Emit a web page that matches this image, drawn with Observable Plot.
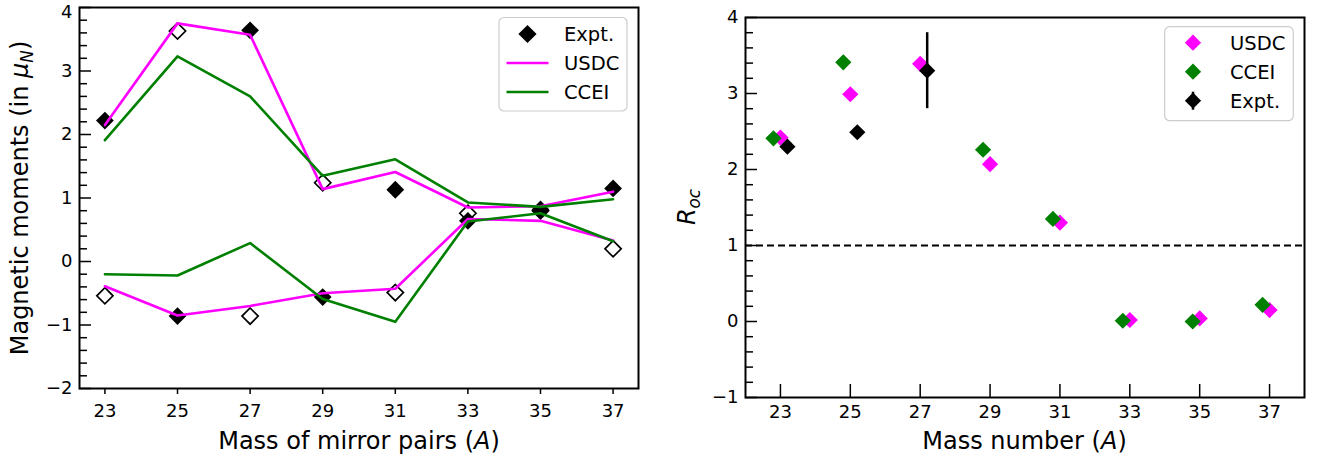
<!DOCTYPE html>
<html><head><meta charset="utf-8">
<script src="https://cdn.jsdelivr.net/npm/d3@7"></script>
<script src="https://cdn.jsdelivr.net/npm/@observablehq/plot@0.6"></script>
<style>
body{margin:0;background:#fff;}
#wrap{position:relative;width:1324px;height:460px;overflow:hidden;}
#left,#right{position:absolute;top:0;}
#left{left:0;} #right{left:660px;}
svg{overflow:visible;}
</style></head><body><div id="wrap"><div id="left"></div><div id="right"></div></div>
<script>
// ---- Data: left panel (magnetic moments of mirror pairs) ----
const masses = [23, 25, 27, 29, 31, 33, 35, 37];
const exptFilled = [2.22, -0.86, 3.64, -0.56, 1.13, 0.64, 0.82, 1.15];
const exptOpen   = [-0.54, 3.63, -0.86, 1.24, -0.49, 0.76, 0.80, 0.20];
const usdcUpper  = [2.15, 3.75, 3.57, 1.14, 1.41, 0.85, 0.87, 1.10];
const usdcLower  = [-0.39, -0.85, -0.70, -0.50, -0.43, 0.67, 0.64, 0.33];
const cceiUpper  = [1.91, 3.23, 2.60, 1.35, 1.61, 0.93, 0.86, 0.98];
const cceiLower  = [-0.20, -0.22, 0.29, -0.59, -0.95, 0.63, 0.76, 0.32];

// ---- Data: right panel (R_oc) ----
const rocUSDC = [2.42, 2.99, 3.39, 2.07, 1.30, 0.02, 0.04, 0.15];
const rocCCEI = [2.41, 3.41, null, 2.26, 1.35, 0.01, 0.00, 0.22];
const exptMasses = [23, 25, 27];
const rocExpt = [2.30, 2.49, 3.30];
const rocExptErr = [0, 0, 0.5];

const leftYTicks = [-2, -1, 0, 1, 2, 3, 4];
const rightYTicks = [-1, 0, 1, 2, 3, 4];

const MAG = "#ff00ff", GRN = "#008000";
const FONT = "DejaVu Sans";
const minor = (lo, hi) => d3.range(lo, hi + 1e-9, 0.2).filter(v => Math.abs(v - Math.round(v)) > 1e-6);
const rows = (arr) => masses.map((m, i) => ({A: m, v: arr[i]})).filter(d => d.v != null);
const fmt = d3.format("d");

// ---------- LEFT ----------
const left = Plot.plot({
  width: 660, height: 460,
  marginLeft: 79, marginRight: 22, marginTop: 7, marginBottom: 72,
  style: {fontFamily: FONT, fontSize: "18px", background: "transparent", color: "black"},
  x: {domain: [22.3, 37.7], axis: null},
  y: {domain: [-2, 4], axis: null},
  marks: [
    Plot.dot(rows(exptOpen), {x: "A", y: "v", symbol: "diamond2", r: 7.3, fill: "white", stroke: "black", strokeWidth: 1.7}),
    Plot.dot(rows(exptFilled), {x: "A", y: "v", symbol: "diamond2", r: 8, fill: "black"}),
    Plot.line(rows(usdcUpper), {x: "A", y: "v", stroke: MAG, strokeWidth: 2.6}),
    Plot.line(rows(usdcLower), {x: "A", y: "v", stroke: MAG, strokeWidth: 2.6}),
    Plot.line(rows(cceiUpper), {x: "A", y: "v", stroke: GRN, strokeWidth: 2.6}),
    Plot.line(rows(cceiLower), {x: "A", y: "v", stroke: GRN, strokeWidth: 2.6}),
    Plot.axisX({ticks: masses, tickSize: 6, tickPadding: 10, tickFormat: d => String(d), strokeWidth: 1.5, label: null}),
    Plot.axisY({ticks: leftYTicks, tickSize: -12, fill: "none", strokeWidth: 1.5, label: null}),
    Plot.axisY({ticks: minor(-2, 4), tickSize: -8, fill: "none", strokeWidth: 1.5, label: null}),
    Plot.axisY({ticks: leftYTicks.filter(v => v < 4), tickSize: 0, tickPadding: 7, tickFormat: fmt, label: null}),
    Plot.axisY({ticks: leftYTicks.filter(v => v === 4), tickSize: 0, tickPadding: 7, dy: 5, tickFormat: fmt, label: null}),
    Plot.frame({stroke: "black", strokeWidth: 2})
  ]
});
document.getElementById("left").appendChild(left);

// ---------- RIGHT ----------
const exptRows = exptMasses.map((m, i) => ({A: m, v: rocExpt[i], e: rocExptErr[i]}));
const right = Plot.plot({
  width: 664, height: 460,
  marginLeft: 85, marginRight: 20, marginTop: 17, marginBottom: 63,
  style: {fontFamily: FONT, fontSize: "18px", background: "transparent", color: "black"},
  x: {domain: [22, 38], axis: null},
  y: {domain: [-1, 4], axis: null},
  marks: [
    Plot.ruleY([1], {stroke: "black", strokeWidth: 2, strokeDasharray: "7,4"}),
    Plot.dot(rows(rocUSDC), {x: "A", y: "v", symbol: "diamond2", r: 7.3, fill: MAG}),
    Plot.dot(rows(rocCCEI), {x: "A", y: "v", dx: -7, symbol: "diamond2", r: 7.3, fill: GRN}),
    Plot.ruleX(exptRows.filter(d => d.e > 0), {x: "A", y1: d => d.v - d.e, y2: d => d.v + d.e, dx: 7, stroke: "black", strokeWidth: 2.5}),
    Plot.dot(exptRows, {x: "A", y: "v", dx: 7, symbol: "diamond2", r: 7.3, fill: "black"}),
    Plot.axisX({ticks: masses, tickSize: -13, tickPadding: 21, tickFormat: d => String(d), strokeWidth: 1.5, label: null}),
    Plot.axisY({ticks: rightYTicks, tickSize: -12, tickPadding: 19, tickFormat: fmt, strokeWidth: 1.5, label: null}),
    Plot.axisY({ticks: minor(-1, 4), tickSize: -8, fill: "none", strokeWidth: 1.5, label: null}),
    Plot.frame({stroke: "black", strokeWidth: 2})
  ]
});
document.getElementById("right").appendChild(right);

// ---------- Labels & legends ----------
function label(svg, x, y, rotate, parts, size) {
  const t = d3.select(svg).append("text")
    .attr("transform", `translate(${x},${y}) rotate(${rotate})`)
    .attr("text-anchor", "middle").attr("dy", "0.36em")
    .attr("font-family", FONT).attr("font-size", size).attr("fill", "black");
  parts.forEach(p => {
    const s = t.append("tspan").text(p.t);
    if (p.i) s.attr("font-style", "italic");
    if (p.sub) s.attr("font-size", size * 0.7).attr("dy", size * 0.22);
    if (p.unsub) s.attr("dy", -size * 0.22);
  });
}
label(left, 19.5, 198, -90, [{t: "Magnetic moments (in "}, {t: "μ", i: 1}, {t: "N", i: 1, sub: 1}, {t: ")", unsub: 1}], 24);
label(left, 359, 440, 0, [{t: "Mass of mirror pairs ("}, {t: "A", i: 1}, {t: ")"}], 24);
label(right, 1024.5 - 660, 440, 0, [{t: "Mass number ("}, {t: "A", i: 1}, {t: ")"}], 24);
label(right, 686 - 660, 207, -90, [{t: "R", i: 1}, {t: "oc", i: 1, sub: 1}], 24);

function legend(svg, box, entries) {
  const g = d3.select(svg).append("g");
  g.append("rect").attr("x", box.x).attr("y", box.y).attr("width", box.w).attr("height", box.h)
    .attr("rx", 5).attr("fill", "white").attr("fill-opacity", 0.8).attr("stroke", "#cccccc").attr("stroke-width", 1.2);
  entries.forEach((e, i) => {
    const y = box.y0 + i * box.dy;
    if (e.kind === "line") {
      g.append("line").attr("x1", box.mx - 21).attr("x2", box.mx + 21).attr("y1", y).attr("y2", y)
        .attr("stroke", e.color).attr("stroke-width", 2.6);
    } else {
      const sym = d3.symbol(d3.symbolDiamond2, Math.PI * e.r * e.r);
      if (e.err) g.append("line").attr("x1", box.mx).attr("x2", box.mx).attr("y1", y - 9).attr("y2", y + 9).attr("stroke", e.color).attr("stroke-width", 2.5);
      g.append("path").attr("d", sym()).attr("transform", `translate(${box.mx},${y})`).attr("fill", e.color);
    }
    g.append("text").attr("x", box.tx).attr("y", y).attr("dy", "0.36em").attr("text-anchor", "start")
      .attr("font-family", FONT).attr("font-size", 19.5).attr("fill", "black").text(e.label);
  });
}
legend(left, {x: 499, y: 17.5, w: 128, h: 93.5, y0: 34, dy: 29, mx: 527.5, tx: 564},
  [{kind: "dot", color: "black", r: 8.2, label: "Expt."}, {kind: "line", color: MAG, label: "USDC"}, {kind: "line", color: GRN, label: "CCEI"}]);
legend(right, {x: 504.7, y: 26.7, w: 128.6, h: 94, y0: 42.7, dy: 29, mx: 533, tx: 570},
  [{kind: "dot", color: MAG, r: 7.3, label: "USDC"}, {kind: "dot", color: GRN, r: 7.3, label: "CCEI"}, {kind: "dot", color: "black", r: 7.3, err: 1, label: "Expt."}]);
</script>
</body></html>
